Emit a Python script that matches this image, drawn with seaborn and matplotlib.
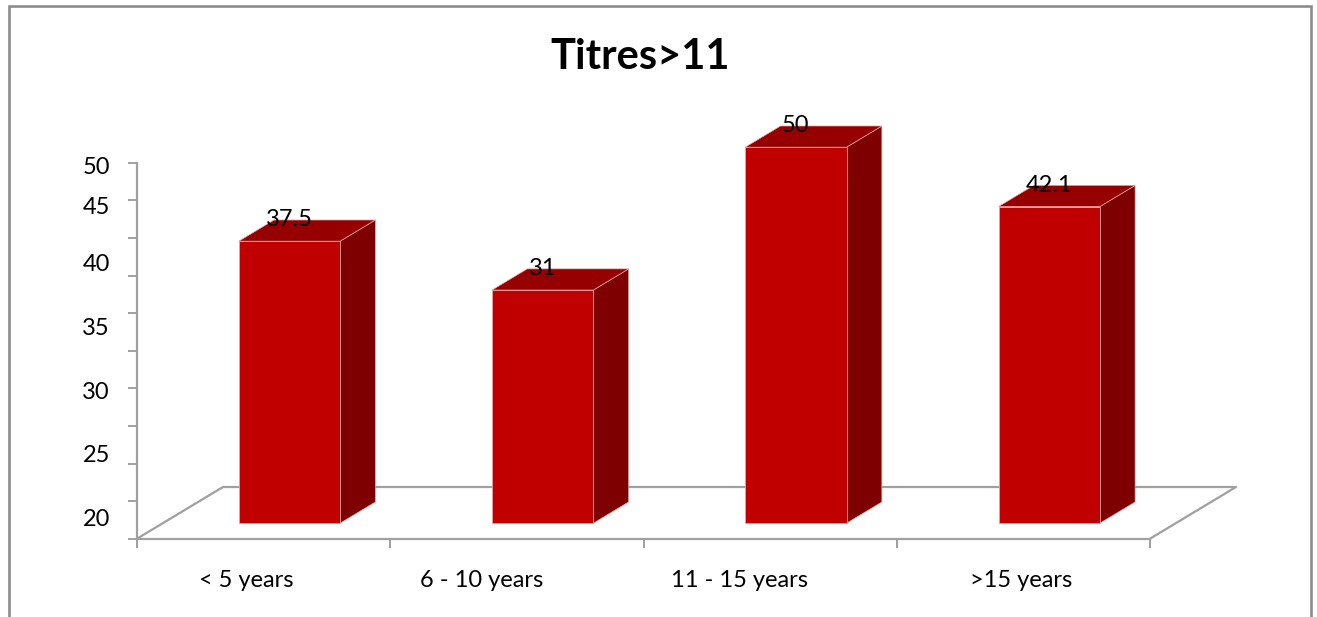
import matplotlib
matplotlib.use("Agg")
import matplotlib.pyplot as plt
from matplotlib.patches import Polygon, Rectangle
import seaborn as sns

# ---- data ----
categories = ["< 5 years", "6 - 10 years", "11 - 15 years", ">15 years"]
values = [37.5, 31, 50, 42.1]
value_labels = ["37.5", "31", "50", "42.1"]
axis_labels = ["50", "45", "40", "35", "30", "25", "20"]
title = "Titres>11"

# ---- layout ----
axis_label_pos = [49.3, 44.1, 36.4, 28.0, 19.5, 11.0, 2.5]
category_label_pos = [-0.07, 0.86, 1.88, 2.99]

sns.set_theme(style="white")
plt.rcParams["font.family"] = ["Lato", "DejaVu Sans"]

W, H = 1317, 617
fig = plt.figure(figsize=(W / 100, H / 100), dpi=100)

px_per_unit = 7.52
ax_left, ax_right = 137, 1150
base_y = 538.7
ymax = 56
ax = fig.add_axes([ax_left / W, (H - base_y) / H,
                   (ax_right - ax_left) / W, ymax * px_per_unit / H])

cat_px = (ax_right - ax_left) / 4
floor_dx = 86 / cat_px
floor_dy = 51.7 / px_per_unit
front_frac, depth_frac = 0.30, 0.41
dx0, dy0 = front_frac * floor_dx, front_frac * floor_dy
bdx, bdy = depth_frac * floor_dx, depth_frac * floor_dy

front_c, top_c, side_c = "#C00000", "#960000", "#7F0000"
edge_c = "#E3A3A3"

sns.barplot(x=categories, y=values, color=front_c, saturation=1, width=0.40,
            edgecolor=edge_c, linewidth=0.6, ax=ax, zorder=3)
ax.set_xlim(-0.5, 3.5)
ax.set_ylim(0, ymax)
ax.set_xlabel("")
ax.set_ylabel("")

# floor outline
grid_c = "#A0A0A0"
ax.plot([-0.5, -0.5 + floor_dx, 3.5 + floor_dx, 3.5], [0, floor_dy, floor_dy, 0],
        color=grid_c, lw=1.6, clip_on=False, zorder=1)

# extrude each bar: shift front face into the floor, add top and side faces
for patch, v, lab in zip(ax.patches, values, value_labels):
    patch.set_x(patch.get_x() + dx0)
    patch.set_y(dy0)
    patch.set_clip_on(False)
    x0 = patch.get_x()
    x1 = x0 + patch.get_width()
    y0 = dy0
    y1 = dy0 + v
    side = Polygon([(x1, y0), (x1 + bdx, y0 + bdy), (x1 + bdx, y1 + bdy), (x1, y1)],
                   closed=True, fc=side_c, ec=edge_c, lw=0.5, zorder=2.5, clip_on=False)
    top = Polygon([(x0, y1), (x1, y1), (x1 + bdx, y1 + bdy), (x0 + bdx, y1 + bdy)],
                  closed=True, fc=top_c, ec=edge_c, lw=0.5, zorder=2.5, clip_on=False)
    ax.add_patch(side)
    ax.add_patch(top)
    ax.text((x0 + x1) / 2, y1 + bdy, lab, ha="center", va="center",
            fontsize=17, color="black", zorder=5, clip_on=False)

# axes styling
for s in ["top", "right"]:
    ax.spines[s].set_visible(False)
ax.spines["left"].set_bounds(0, 50)
for s in ["left", "bottom"]:
    ax.spines[s].set_color(grid_c)
    ax.spines[s].set_linewidth(1.6)
ax.set_yticks(range(0, 51, 5))
ax.set_yticklabels([])
ax.set_xticks([-0.5, 0.5, 1.5, 2.5, 3.5])
ax.set_xticklabels([])
ax.tick_params(axis="both", which="major", direction="out", length=6.5,
               width=1.4, color=grid_c, left=True, bottom=True)

ytr = ax.get_yaxis_transform()
for lab, pos in zip(axis_labels, axis_label_pos):
    ax.text(-0.0267, pos, lab, transform=ytr, ha="right", va="center",
            fontsize=17, color="black", clip_on=False)

for lab, pos in zip(categories, category_label_pos):
    ax.text(pos, -5.5, lab, ha="center", va="center", fontsize=17,
            color="black", clip_on=False)

fig.text(640 / W, 1 - 57 / H, title, ha="center", va="center",
         fontsize=30, fontweight="bold", color="black")

# chart frame
fig.add_artist(Rectangle((8.5 / W, -0.05), (1311 - 8.5) / W, (H - 5.5) / H + 0.05,
                         transform=fig.transFigure, fill=False, ec="#8C8C8C", lw=1.9))

fig.savefig("out.png", dpi=100)
